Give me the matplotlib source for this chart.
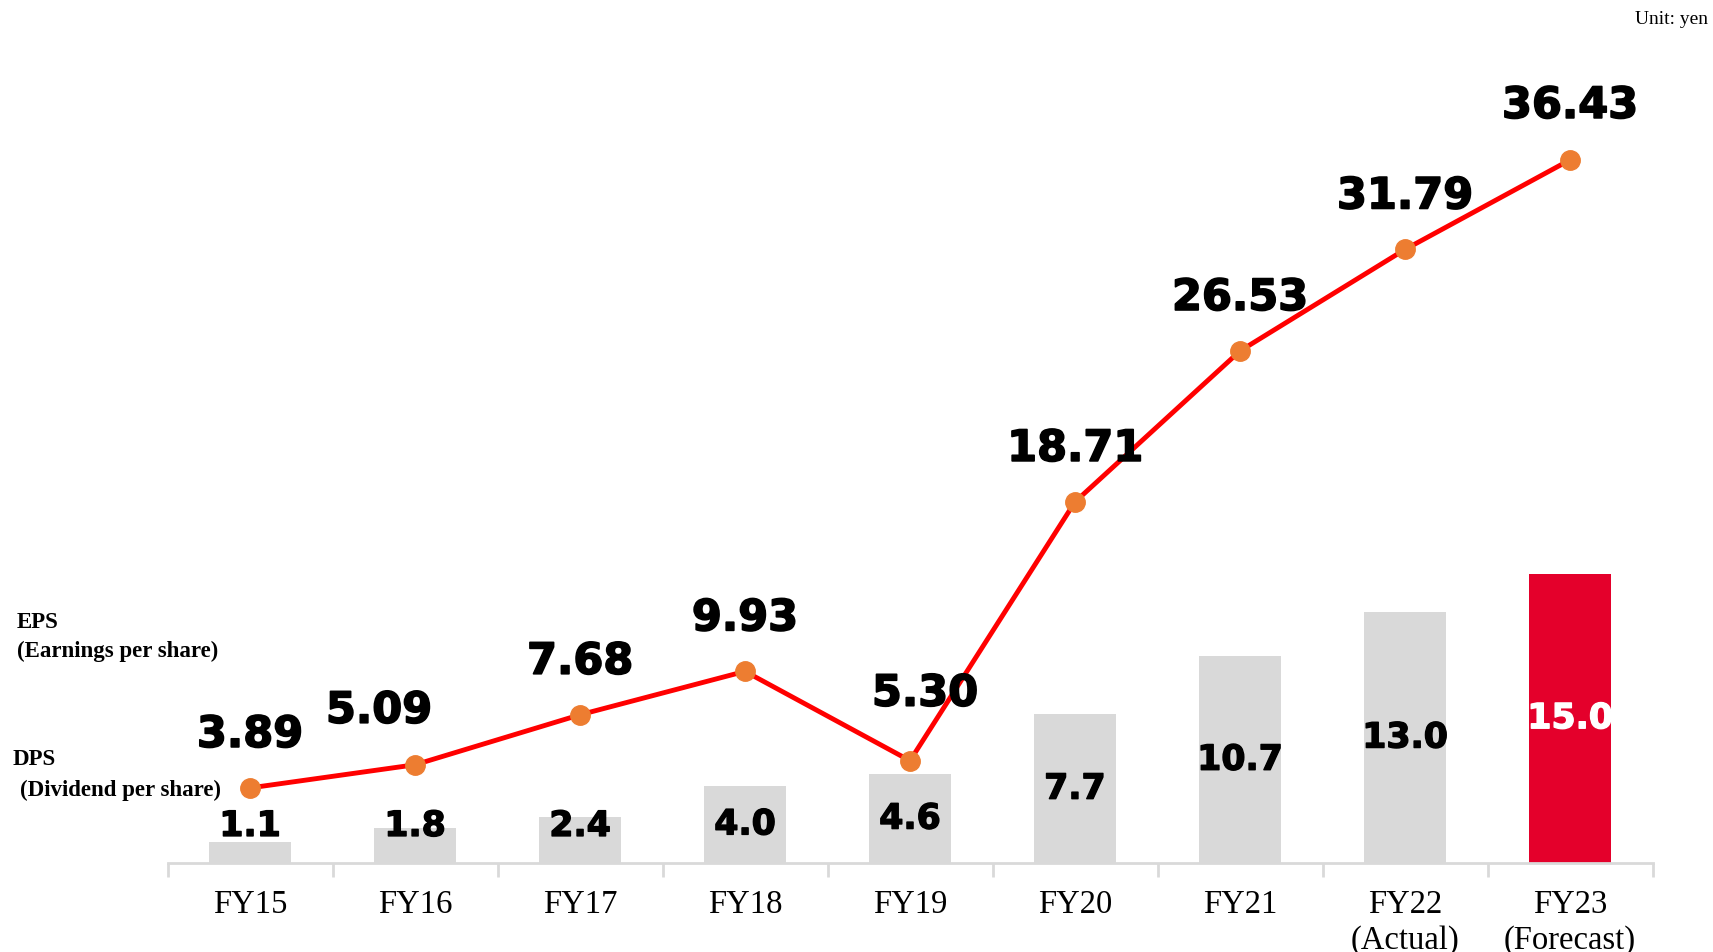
import numpy as np
import matplotlib.pyplot as plt
import matplotlib.patheffects as pe

# data
years = ["FY15", "FY16", "FY17", "FY18", "FY19", "FY20", "FY21",
         "FY22\n(Actual)", "FY23\n(Forecast)"]
dps = [1.1, 1.8, 2.4, 4.0, 4.6, 7.7, 10.7, 13.0, 15.0]
eps = [3.89, 5.09, 7.68, 9.93, 5.30, 18.71, 26.53, 31.79, 36.43]
eps_txt = ["3.89", "5.09", "7.68", "9.93", "5.30", "18.71", "26.53", "31.79", "36.43"]

# label nudges (pixels) for the EPS numbers
eps_dx = [0, -36, 0, 0, 15, 0, 0, 0, 0]
eps_dy = [53, 54, 53, 53, 67, 53, 53, 53, 54]

gray = "#d9d9d9"
red_bar = "#e4002b"
serif = "Liberation Serif"
num_font = "DejaVu Sans"

fig = plt.figure(figsize=(17.13, 9.53), dpi=100)
ax = fig.add_axes([167.5 / 1713, 89 / 953, 1485 / 1713, 864 / 953])

x = np.arange(len(years))
colors = [gray] * (len(dps) - 1) + [red_bar]
ax.bar(x, dps, width=0.5, color=colors, zorder=1)

for i, v in enumerate(dps):
    c = "white" if i == len(dps) - 1 else "black"
    ax.text(x[i], max(v / 2, 1.92), f"{v:.1f}", ha="center", va="center",
            fontsize=25, fontweight="bold", family=num_font, color=c, zorder=5,
            path_effects=[pe.withStroke(linewidth=1.0, foreground=c)])

ax.plot(x, eps, color="#ff0000", linewidth=3.5, zorder=3)
ax.plot(x, eps, "o", color="#ed7d31", markersize=14, zorder=4)

for i, v in enumerate(eps):
    ax.annotate(eps_txt[i], (x[i], v), xytext=(eps_dx[i], eps_dy[i]),
                textcoords="offset pixels", ha="center", va="center",
                fontsize=31, fontweight="bold", family=num_font, zorder=6,
                path_effects=[pe.withStroke(linewidth=1.2, foreground="black")])

ax.set_xlim(-0.5, len(years) - 0.5)
ax.set_ylim(0, 864 / 19.3)
for s in ["top", "right", "left"]:
    ax.spines[s].set_visible(False)
ax.spines["bottom"].set_color(gray)
ax.spines["bottom"].set_linewidth(2)
ax.set_yticks([])

# category labels, tick marks at boundaries
ax.set_xticks(x)
ax.set_xticklabels(years, fontsize=23.5, family=serif, linespacing=1.2)
ax.tick_params(axis="x", which="major", length=0, pad=18.5)
ax.set_xticks(np.arange(-0.5, len(years)), minor=True)
ax.tick_params(axis="x", which="minor", length=10, width=2, color=gray)

fig.text(1708 / 1713, 1 - 20 / 953, "Unit: yen", ha="right", va="center",
         fontsize=14, family=serif)
fig.text(17 / 1713, 1 - 622 / 953, "EPS", ha="left", va="center",
         fontsize=16.5, family=serif, fontweight="bold")
fig.text(17 / 1713, 1 - 651 / 953, "(Earnings per share)", ha="left", va="center",
         fontsize=16.5, family=serif, fontweight="bold")
fig.text(13 / 1713, 1 - 760 / 953, "DPS", ha="left", va="center",
         fontsize=16.5, family=serif, fontweight="bold")
fig.text(20 / 1713, 1 - 790 / 953, "(Dividend per share)", ha="left", va="center",
         fontsize=16.5, family=serif, fontweight="bold")

plt.savefig("out.png", dpi=100)
